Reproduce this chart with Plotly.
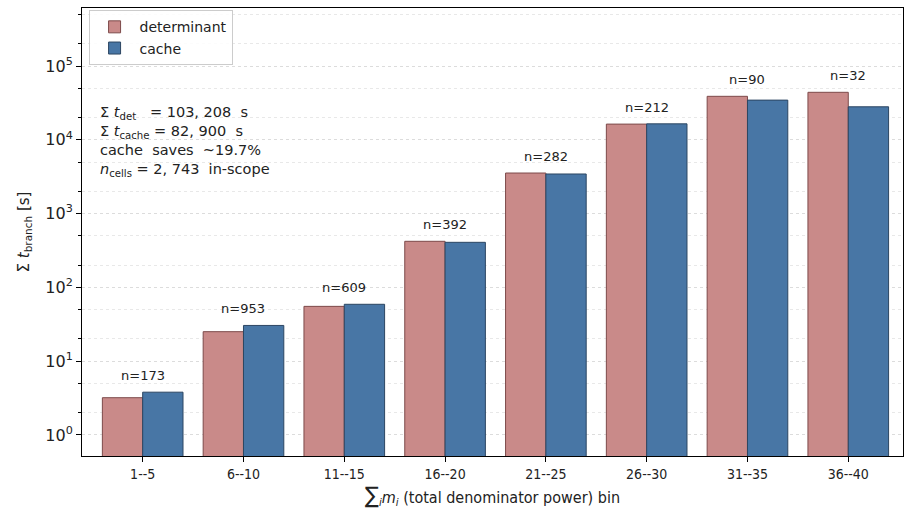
import plotly.graph_objects as go
import numpy as np

# Bins of total denominator power
bins = ["1--5", "6--10", "11--15", "16--20", "21--25", "26--30", "31--35", "36--40"]
# Summed branch time per bin [s]
t_det = [3.2, 25.1, 55.3, 421.0, 3545.0, 16320.0, 38830.0, 44008.0]
t_cache = [3.8, 30.5, 59.0, 408.0, 3440.0, 16450.0, 34500.0, 28009.0]
# Number of cells in each bin
n_cells = [173, 953, 609, 392, 282, 212, 90, 32]

det_fill, det_edge = "#c98a89", "#7d4a4a"
cache_fill, cache_edge = "#4876a5", "#2c4662"
font_main = "DejaVu Sans"
font_narrow = "DejaVu Sans Condensed, Liberation Sans Narrow, DejaVu Sans"

xpos = list(range(len(bins)))

fig = go.Figure()
fig.add_trace(go.Bar(x=xpos, y=t_det, name="determinant",
                     marker=dict(color=det_fill, line=dict(color=det_edge, width=1))))
fig.add_trace(go.Bar(x=xpos, y=t_cache, name="cache",
                     marker=dict(color=cache_fill, line=dict(color=cache_edge, width=1))))

# cell counts above each group
for i, n in enumerate(n_cells):
    top = max(t_det[i], t_cache[i])
    fig.add_annotation(x=i, y=np.log10(top * 1.5), text=f"n={n}", showarrow=False,
                       xanchor="center", yanchor="bottom", yshift=-6,
                       font=dict(family=font_main, size=13, color="#222"))

nb = "\u00a0"
summary = (f"Σ{nb}<i>t</i><sub>det</sub>{nb}{nb}{nb}= 103,{nb}208{nb}{nb}s<br>"
           f"Σ{nb}<i>t</i><sub>cache</sub>{nb}= 82,{nb}900{nb}{nb}s<br>"
           f"cache{nb}{nb}saves{nb}{nb}~19.7%<br>"
           f"<i>n</i><sub>cells</sub>{nb}= 2,{nb}743{nb}{nb}in-scope")
fig.add_annotation(xref="paper", yref="paper", x=0.02, y=0.79, text=summary,
                   showarrow=False, xanchor="left", yanchor="top", align="left",
                   font=dict(family=font_main, size=14.5, color="#222"))

ytickvals = [10 ** k for k in range(6)]
yticktext = [f"10<sup>{k}</sup>" for k in range(6)]

fig.update_layout(
    width=904, height=528,
    margin=dict(l=82, r=1, t=8, b=72),
    plot_bgcolor="white", paper_bgcolor="white",
    barmode="group", bargap=0.2, bargroupgap=0,
    font=dict(family=font_main, size=14, color="#222"),
    legend=dict(x=0.008, y=0.995, xanchor="left", yanchor="top",
                bgcolor="rgba(255,255,255,0.85)", bordercolor="#cccccc", borderwidth=1,
                font=dict(family=font_main, size=14), itemwidth=40,
                tracegroupgap=2),
    showlegend=True,
)
fig.update_xaxes(
    range=[-0.602, 7.543], tickvals=xpos, ticktext=bins,
    showline=True, linecolor="black", linewidth=1, mirror=True,
    ticks="outside", ticklen=5, tickcolor="black",
    tickfont=dict(family=font_narrow, size=14),
    showgrid=False, zeroline=False,
    title=dict(text="<span style='font-size:23px'>∑</span><sub><i>i</i></sub><i>m<sub>i</sub></i> (total denominator power) bin",
               font=dict(family=font_narrow, size=16), standoff=10),
)
fig.update_yaxes(
    type="log", range=[-0.285, 5.786],
    tickvals=ytickvals, ticktext=yticktext,
    showline=True, linecolor="black", linewidth=1, mirror=True,
    ticks="outside", ticklen=5, tickcolor="black",
    tickfont=dict(family=font_main, size=16),
    showgrid=True, gridcolor="#dcdcdc", griddash="dot", gridwidth=1,
    minor=dict(ticks="outside", ticklen=3, tickcolor="black", showgrid=True,
               gridcolor="#e8e8e8", griddash="dot", gridwidth=1),
    zeroline=False,
    title=dict(text="Σ <i>t</i><sub>branch</sub> [s]", font=dict(family=font_main, size=15), standoff=12),
)

fig.write_html("out.html")
